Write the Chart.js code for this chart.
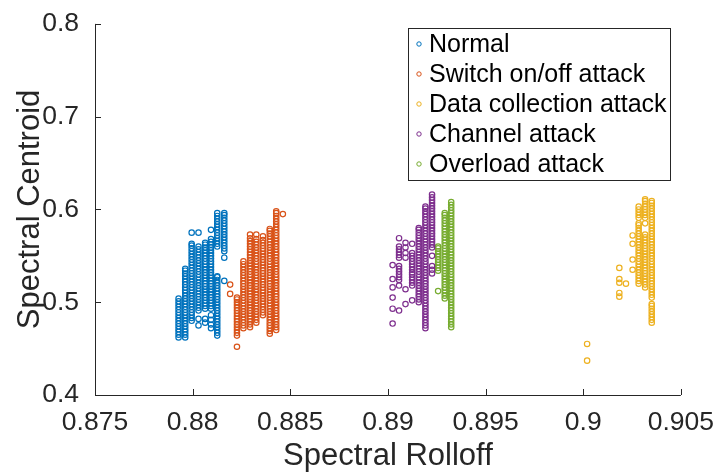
<!DOCTYPE html>
<html>
<head>
<meta charset="utf-8">
<script src="https://cdn.jsdelivr.net/npm/chart.js@4/dist/chart.umd.min.js"></script>
<style>
html,body{margin:0;padding:0;background:#fff}
canvas{display:block}
</style>
</head>
<body>
<canvas id="grafico" width="718" height="472"></canvas>
<script>

// series names and colours
let nomes=['Normal','Switch on/off attack','Data collection attack','Channel attack','Overload attack']
let cores=['#0072BD','#D95319','#EDB120','#7E2F8E','#77AC30']

let xTicks=[0.875,0.88,0.885,0.89,0.895,0.9,0.905]
let yTicks=[0.4,0.5,0.6,0.7,0.8]

// columns: [rolloff, [centroid values in thousandths]]
let normal=[
[0.87928,[462,465,468,471,474,477,480,483,486,489,492,495,498,501,504]],
[0.87962,[462,465,468,471,474,477,480,483,486,489,492,495,498,501,504,507,510,513,516,519,522,525,528,531,534,536]],
[0.87995,[480,483,486,489,492,495,498,501,504,507,510,513,516,519,522,525,528,531,534,537,540,543,546,549,552,555,558,561,563,575]],
[0.88030,[491,494,497,500,503,506,509,512,515,518,521,524,527,530,533,536,539,542,545,548,551,554,557,560,575,482,475]],
[0.88064,[493,496,499,502,505,508,511,514,517,520,523,526,529,532,535,538,541,544,547,550,553,556,559,562,564,482,478]],
[0.88094,[493,496,499,502,505,508,511,514,517,520,523,526,529,532,535,538,541,544,547,550,553,556,559,562,565,568,578,486,481,476,472]],
[0.88126,[464,467,470,473,476,479,482,485,488,491,494,497,500,503,506,509,512,515,518,521,524,527,528,560,563,566,569,572,575,578,581,584,587,590,593,596]],
[0.88162,[555,558,561,564,567,570,573,576,579,582,585,588,591,594,596,548,523]]
]

let switchOnOff=[
[0.88192,[519,509]],
[0.88227,[452,464,467,470,473,476,479,482,485,488,491,494,497,500,503,505]],
[0.88260,[472,475,478,481,484,487,490,493,496,499,502,505,508,511,514,517,520,523,526,529,532,535,538,541,544]],
[0.88294,[473,476,479,482,485,488,491,494,497,500,503,506,509,512,515,518,521,524,527,530,533,536,539,542,545,548,551,554,557,560,563,566,569,573]],
[0.88326,[478,481,484,487,490,493,496,499,502,505,508,511,514,517,520,523,526,529,532,535,538,541,544,547,550,553,556,559,562,565,568,573]],
[0.88360,[486,489,492,495,498,501,504,507,510,513,516,519,522,525,528,531,534,537,540,543,546,549,552,555,558,561,564,567,571]],
[0.88395,[466,469,472,475,478,481,484,487,490,493,496,499,502,505,508,511,514,517,520,523,526,529,532,535,538,541,544,547,550,553,556,559,562,565,568,571,574,577,579]],
[0.88428,[470,473,476,479,482,485,488,491,494,497,500,503,506,509,512,515,518,521,524,527,530,533,536,539,542,545,548,551,554,557,560,563,566,569,572,575,578,581,584,587,590,593,596,598]],
[0.88462,[595]]
]

let dataCollection=[
[0.90020,[455,437]],
[0.90185,[537,525,521,510,506]],
[0.90219,[520]],
[0.90253,[572,563,546,535]],
[0.90284,[591,594,597,600,603,523,526,529,532,535,538,541,544,547,550,553,556,559,562,565,568,571,574,577,580,583,585,520]],
[0.90317,[591,594,597,600,603,606,609,611,585,516,519,522,525,528,531,534,537,540,543,546,549,552,555,558,561,564,567,570,573]],
[0.90351,[505,508,511,514,517,520,523,526,529,532,535,538,541,544,547,550,553,556,559,562,565,568,571,574,577,580,583,586,589,592,595,598,601,604,607,609,478,481,484,487,490,493,496,498]]
]

let channel=[
[0.89024,[540,525,516,505,493,477]],
[0.89057,[569,560,557,554,551,548,539,536,533,530,527,524,518,491]],
[0.89090,[564,559,553,548,514,498]],
[0.89124,[563,553,550,547,544,541,538,535,532,530,527,524,521,518,502]],
[0.89158,[500,503,506,509,512,515,518,521,524,527,530,533,536,539,542,545,548,551,554,557,560,563,566,569,572,575,578,580]],
[0.89192,[472,475,478,481,484,487,490,493,496,499,502,505,508,511,514,517,520,523,526,529,532,535,538,541,544,547,550,553,556,559,562,565,568,571,574,577,580,583,586,589,592,595,598,601,603]],
[0.89226,[559,562,565,568,571,574,577,580,583,586,589,592,595,598,601,604,607,610,613,616,550,539,535,531]]
]

let overload=[
[0.89257,[534,537,540,543,546,549,552,555,558,560,512]],
[0.89291,[504,507,510,513,516,519,522,525,528,531,534,537,540,543,546,549,552,555,558,561,564,567,570,573,576,579,582,585,588,591,594,596]],
[0.89324,[473,476,479,482,485,488,491,494,497,500,503,506,509,512,515,518,521,524,527,530,533,536,539,542,545,548,551,554,557,560,563,566,569,572,575,578,581,584,587,590,593,596,599,602,605,608]]
]

let series=[normal,switchOnOff,dataCollection,channel,overload]

function pontos(colunas){
let out=[]
colunas.forEach(c=>{
c[1].forEach(v=>{
out.push({x:c[0],y:v/1000})
})
})
return out
}

let FONTE='"Liberation Sans", Arial, Helvetica, sans-serif'
let COR_EIXO='#262626'

let eixosPlugin={
id:'eixos',
beforeDatasetsDraw(chart){
let c=chart.ctx
let a=chart.chartArea
let sx=chart.scales.x
let sy=chart.scales.y
c.save()
c.strokeStyle=COR_EIXO
c.lineWidth=1
c.beginPath()
c.moveTo(a.left+0.5,a.top)
c.lineTo(a.left+0.5,a.bottom+0.5)
c.lineTo(a.right,a.bottom+0.5)
xTicks.forEach(t=>{
let px=Math.round(sx.getPixelForValue(t))+0.5
c.moveTo(px,a.bottom)
c.lineTo(px,a.bottom-6)
})
yTicks.forEach(t=>{
let py=Math.round(sy.getPixelForValue(t))+0.5
c.moveTo(a.left,py)
c.lineTo(a.left+6,py)
})
c.stroke()
c.restore()
}
}

let legendaPlugin={
id:'legenda',
afterDatasetsDraw(chart){
let c=chart.ctx
let x0=408,y0=28,w=262,h=152
c.save()
c.fillStyle='#fff'
c.fillRect(x0,y0,w,h)
c.strokeStyle=COR_EIXO
c.lineWidth=1
c.strokeRect(x0+0.5,y0+0.5,w,h)
c.font='25px '+FONTE
c.textBaseline='middle'
chart.data.datasets.forEach((d,i)=>{
let cy=y0+16+i*30
c.beginPath()
c.arc(x0+11,cy,2.2,0,Math.PI*2)
c.strokeStyle=d.borderColor
c.stroke()
c.fillStyle='#000'
c.fillText(d.label,x0+21,cy+1)
})
c.restore()
}
}

new Chart(document.getElementById('grafico'),{
type:'scatter',
data:{
datasets:series.map((s,i)=>({
label:nomes[i],
data:pontos(s),
borderColor:cores[i],
backgroundColor:'rgba(0,0,0,0)',
pointRadius:2.7,
pointBorderWidth:1.2,
pointHoverRadius:2.7
}))
},
options:{
responsive:false,
animation:false,
devicePixelRatio:1,
layout:{padding:{top:21,right:34,bottom:0,left:0}},
plugins:{
legend:{display:false},
tooltip:{enabled:false}
},
scales:{
x:{
type:'linear',
min:0.875,
max:0.905,
afterFit:s=>{s.height=77},
afterBuildTicks:s=>{s.ticks=xTicks.map(v=>({value:v}))},
grid:{display:false},
border:{display:false},
ticks:{
padding:4,
color:COR_EIXO,
font:{family:FONTE,size:26.5},
maxRotation:0,
callback:v=>String(Number(v.toFixed(3)))
},
title:{
display:true,
text:'Spectral Rolloff',
color:COR_EIXO,
font:{family:FONTE,size:31},
padding:{top:0,bottom:-3}
}
},
y:{
type:'linear',
min:0.4,
max:0.8,
afterFit:s=>{s.width=95},
afterBuildTicks:s=>{s.ticks=yTicks.map(v=>({value:v}))},
grid:{display:false},
border:{display:false},
ticks:{
padding:8,
color:COR_EIXO,
font:{family:FONTE,size:26.5},
callback:v=>String(Number(v.toFixed(3)))
},
title:{
display:true,
text:'Spectral Centroid',
color:COR_EIXO,
font:{family:FONTE,size:31},
padding:{top:12,bottom:0}
}
}
}
},
plugins:[eixosPlugin,legendaPlugin]
})

</script>
</body>
</html>
